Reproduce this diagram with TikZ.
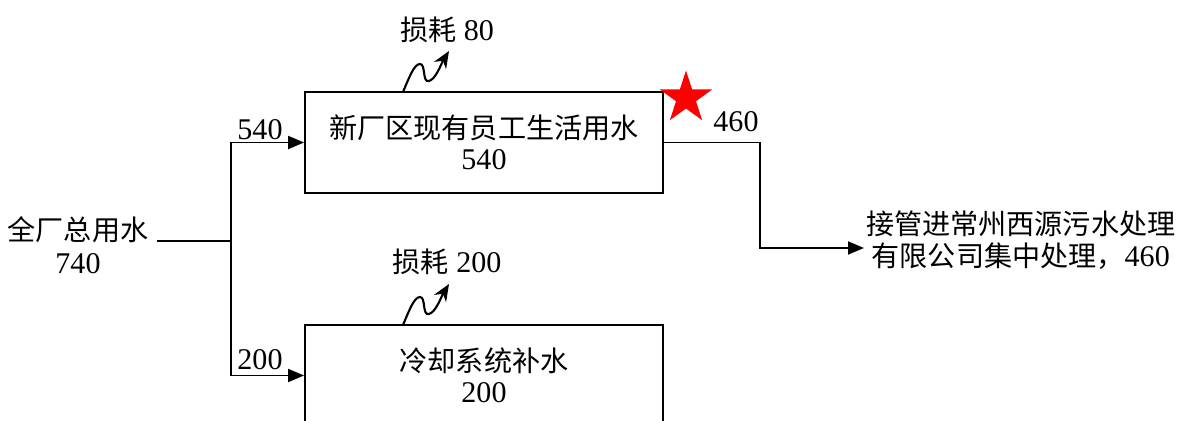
\documentclass[tikz,border=0pt]{standalone}
\usepackage{fontspec}
\setmainfont[Scale=1.07]{Liberation Serif}
\newfontfamily\cjk{Noto Sans CJK SC}
\usetikzlibrary{arrows.meta,shapes.geometric,positioning}

\tikzset{
  unitbox/.style={draw, line width=1.1pt, minimum width=7.16cm, minimum height=2.02cm,
    align=center, inner sep=0pt},
  txt/.style={align=center, inner sep=1pt},
  flow/.style={line width=1.1pt, -{Triangle[length=0.32cm,width=0.26cm]}},
  pipe/.style={line width=1.1pt},
  loss/.style={line width=1.2pt, -{Stealth[length=0.34cm,width=0.28cm]}},
}

\begin{document}
\begin{tikzpicture}[x=0.02cm, y=-0.02cm, font=\fontsize{16}{18.5}\selectfont]

  \clip (0,0) rectangle (1179,421);

  % boxes
  \node (live) [unitbox] at (484,142.5) {{\cjk 新厂区现有员工生活用水}\\[-1pt]540};
  \node (cool) [unitbox] at (484,375.5) {{\cjk 冷却系统补水}\\[-1pt]200};

  % in and out
  \node (total) [txt, outer sep=4pt] at (78,245) {{\cjk 全厂总用水}\\740};
  \node (sewage) [txt, anchor=west] at (864,240) {{\cjk 接管进常州西源污水处理}\\{\cjk 有限公司集中处理，}460};

  \coordinate (split) at (231,241);
  \coordinate (turn) at (760,248);

  \draw [pipe] (total.east |- split) -- (split);
  \draw [flow] (split) |- (live.west);
  \draw [flow] (split) |- (cool.west);
  \draw [flow] (live.east) -| (turn) -- (sewage.west |- turn);

  \node (q540) [txt] at (260,130) {540};
  \node (q200) [txt] at (260,360) {200};
  \node (q460) [txt] at (736,122) {460};

  % losses
  \coordinate (l1) at (403,92);
  \coordinate (l1e) at (449,51);
  \coordinate (l2) at (403,325);
  \coordinate (l2e) at (449,284);
  \draw [loss] (l1) .. controls (409,78) and (414,64) .. (420,64)
    .. controls (426,64) and (422,83) .. (429,81) .. controls (436,79) and (441,64) .. (l1e);
  \draw [loss] (l2) .. controls (409,311) and (414,297) .. (420,297)
    .. controls (426,297) and (422,316) .. (429,314) .. controls (436,312) and (441,297) .. (l2e);
  \node (loss1) [txt] at (447,30) {{\cjk 损耗} 80};
  \node (loss2) [txt] at (447,262) {{\cjk 损耗} 200};

  % mark
  \node (mark) [star, star points=5, star point ratio=2.618, fill=red, inner sep=0pt,
    minimum size=1.1cm] at (686,98) {};

\end{tikzpicture}
\end{document}
